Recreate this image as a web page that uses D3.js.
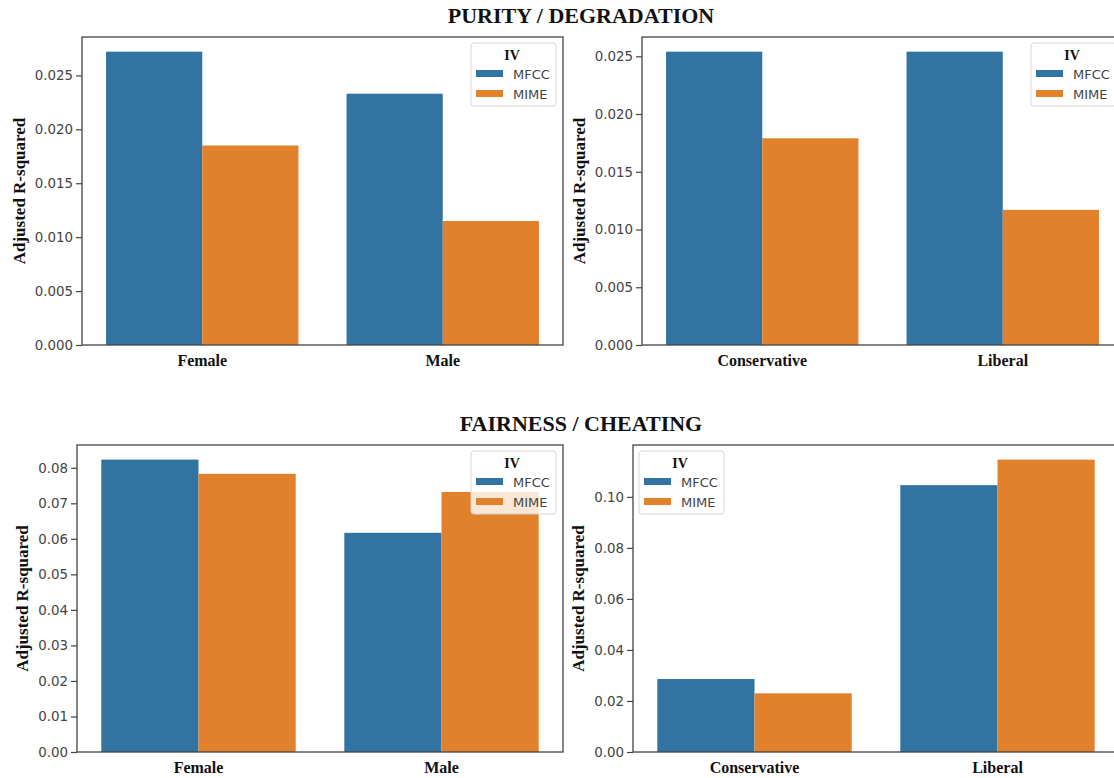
<!DOCTYPE html>
<html>
<head>
<meta charset="utf-8">
<script src="https://cdn.jsdelivr.net/npm/d3@7"></script>
<style>
  html, body { margin: 0; padding: 0; background: #fff; }
  svg { display: block; }
</style>
</head>
<body>
<script>
// Adjusted R-squared by group, MFCC vs MIME predictors
const series = ["MFCC", "MIME"];
const colors = ["#3274a1", "#e1812c"];

const genderCats = ["Female", "Male"];
const politicsCats = ["Conservative", "Liberal"];

const purityGenderMFCC = [0.0272, 0.0233];
const purityGenderMIME = [0.0185, 0.0115];
const purityPoliticsMFCC = [0.0254, 0.0254];
const purityPoliticsMIME = [0.0179, 0.0117];

const fairnessGenderMFCC = [0.0823, 0.0617];
const fairnessGenderMIME = [0.0783, 0.0732];
const fairnessPoliticsMFCC = [0.0286, 0.1046];
const fairnessPoliticsMIME = [0.0230, 0.1146];

const purityTicks = [0, 0.005, 0.010, 0.015, 0.020, 0.025];
const fairnessGenderTicks = [0, 0.01, 0.02, 0.03, 0.04, 0.05, 0.06, 0.07, 0.08];
const fairnessPoliticsTicks = [0, 0.02, 0.04, 0.06, 0.08, 0.10];

const titles = ["PURITY / DEGRADATION", "FAIRNESS / CHEATING"];

const W = 1114, H = 778;
const svg = d3.select("body").append("svg").attr("width", W).attr("height", H);

const serif = "'Liberation Serif', 'Times New Roman', serif";
const sans = "'DejaVu Sans', sans-serif";

svg.append("text").attr("x", 581).attr("y", 23).attr("text-anchor", "middle")
  .attr("font-family", serif).attr("font-weight", "bold").attr("font-size", 22)
  .attr("fill", "#111").text(titles[0]);
svg.append("text").attr("x", 581).attr("y", 431).attr("text-anchor", "middle")
  .attr("font-family", serif).attr("font-weight", "bold").attr("font-size", 22)
  .attr("fill", "#111").text(titles[1]);

function panel(box, cats, mfcc, mime, ticks, tickFmt, legendPos) {
  const g = svg.append("g");
  const vals = [mfcc, mime];
  const maxV = d3.max(vals.flat());
  const y = d3.scaleLinear().domain([0, maxV * 1.05]).range([box.bottom, box.top]);
  const x0 = d3.scaleBand().domain(cats).range([box.left, box.right]).paddingInner(0.2).paddingOuter(0.1);
  const x1 = d3.scaleBand().domain(series).range([0, x0.bandwidth()]);

  // bars
  cats.forEach((c, i) => {
    series.forEach((s, j) => {
      g.append("rect")
        .attr("x", x0(c) + x1(s))
        .attr("y", y(vals[j][i]))
        .attr("width", x1.bandwidth())
        .attr("height", y(0) - y(vals[j][i]))
        .attr("fill", colors[j]);
    });
  });

  // y axis
  const yAxis = d3.axisLeft(y).tickValues(ticks).tickFormat(tickFmt).tickSize(6).tickPadding(3);
  const ya = g.append("g").attr("transform", `translate(${box.left},0)`).call(yAxis);
  ya.select(".domain").remove();
  ya.selectAll(".tick line").attr("stroke", "#444").attr("stroke-width", 1.2);
  ya.selectAll(".tick text").attr("font-family", sans).attr("font-size", 13.4).attr("fill", "#444");

  // x axis labels
  const xAxis = d3.axisBottom(x0).tickSize(0).tickPadding(10);
  const xa = g.append("g").attr("transform", `translate(0,${box.bottom})`).call(xAxis);
  xa.select(".domain").remove();
  xa.selectAll(".tick text").attr("font-family", serif).attr("font-weight", "bold")
    .attr("font-size", 16).attr("fill", "#111");

  // frame
  g.append("rect").attr("x", box.left).attr("y", box.top)
    .attr("width", box.right - box.left).attr("height", box.bottom - box.top)
    .attr("fill", "none").attr("stroke", "#444").attr("stroke-width", 1.3);

  // y label placed just left of the widest tick label
  const labelLeft = d3.min(ya.selectAll(".tick text").nodes(), n => {
    const b = n.getBBox();
    return box.left - 9 - b.width;
  });
  g.append("text")
    .attr("transform", `translate(${labelLeft - 10},${(box.top + box.bottom) / 2}) rotate(-90)`)
    .attr("text-anchor", "middle")
    .attr("font-family", serif).attr("font-weight", "bold").attr("font-size", 17)
    .attr("fill", "#111").text("Adjusted R-squared");

  // legend
  const lx = legendPos.x, ly = legendPos.y;
  const lg = g.append("g").attr("transform", `translate(${lx},${ly})`);
  lg.append("rect").attr("x", 0).attr("y", 0).attr("width", 85).attr("height", 63)
    .attr("rx", 3).attr("fill", "#fff").attr("fill-opacity", 0.8)
    .attr("stroke", "#d6d6d6").attr("stroke-width", 1);
  lg.append("text").attr("x", 41).attr("y", 17).attr("text-anchor", "middle")
    .attr("font-family", serif).attr("font-weight", "bold").attr("font-size", 14)
    .attr("fill", "#111").text("IV");
  series.forEach((s, j) => {
    lg.append("rect").attr("x", 5).attr("y", 27 + j * 20).attr("width", 27).attr("height", 7)
      .attr("fill", colors[j]);
    lg.append("text").attr("x", 42).attr("y", 31 + j * 20).attr("dy", "0.35em")
      .attr("font-family", sans).attr("font-size", 13).attr("fill", "#444").text(s);
  });
}

const f3 = d3.format(".3f"), f2 = d3.format(".2f");

panel({left: 82, right: 563, top: 37, bottom: 345}, genderCats,
  purityGenderMFCC, purityGenderMIME, purityTicks, f3, {x: 471, y: 43});
panel({left: 642, right: 1123, top: 37, bottom: 345}, politicsCats,
  purityPoliticsMFCC, purityPoliticsMIME, purityTicks, f3, {x: 1031, y: 43});
panel({left: 77, right: 563, top: 445, bottom: 752}, genderCats,
  fairnessGenderMFCC, fairnessGenderMIME, fairnessGenderTicks, f2, {x: 471, y: 451});
panel({left: 633, right: 1119, top: 445, bottom: 752}, politicsCats,
  fairnessPoliticsMFCC, fairnessPoliticsMIME, fairnessPoliticsTicks, f2, {x: 639, y: 451});
</script>
</body>
</html>
